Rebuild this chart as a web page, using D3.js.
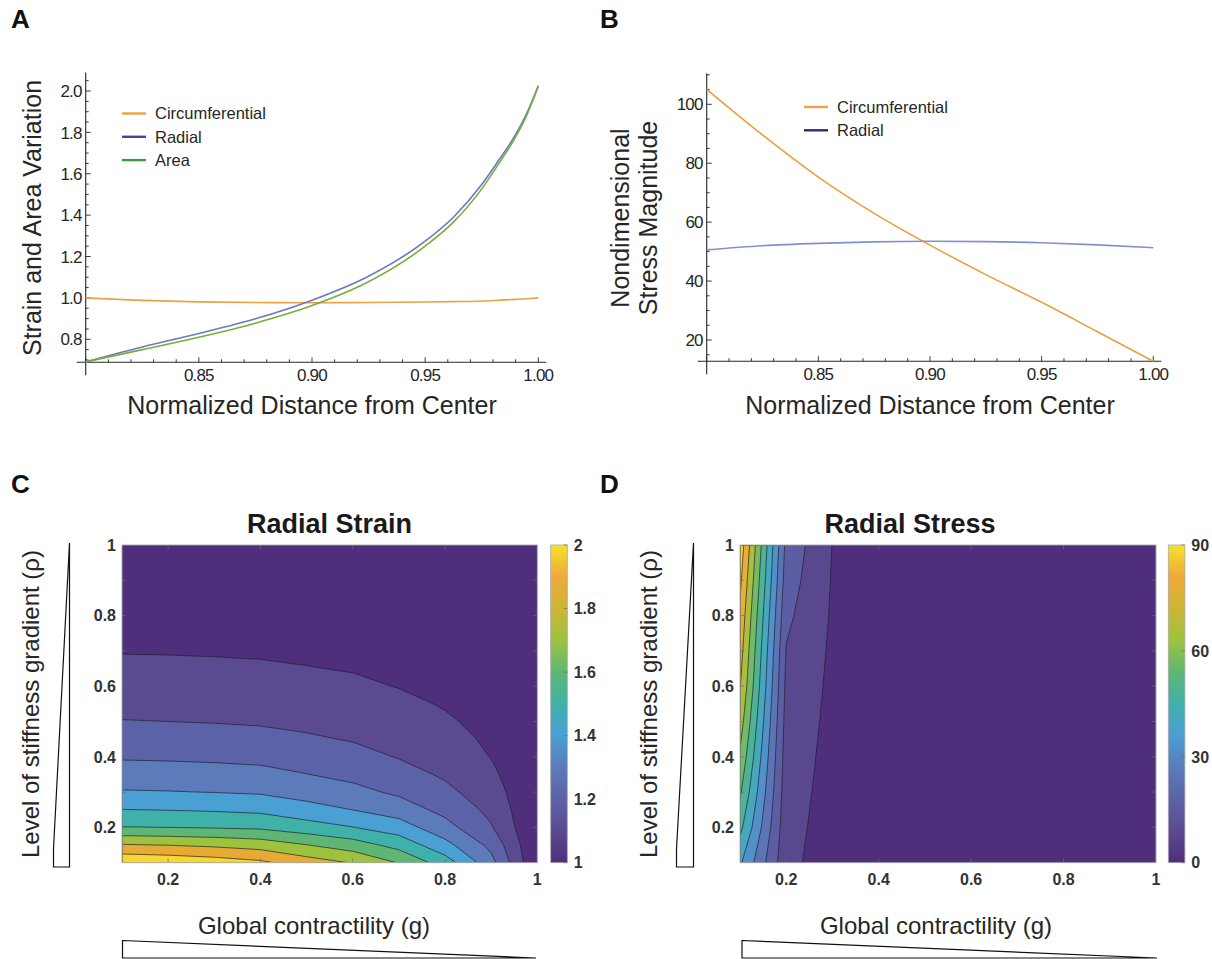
<!DOCTYPE html>
<html>
<head>
<meta charset="utf-8">
<script src="https://cdn.jsdelivr.net/npm/d3@7"></script>
<style>
  body { margin: 0; background: #fff; }
  svg { display: block; }
  text { font-family: "Liberation Sans", Arial, sans-serif; }
</style>
</head>
<body>
<svg id="fig" width="1212" height="959"></svg>
<script>
// ---------- panel A: strain / area vs normalized distance
const distA = [0.80, 0.825, 0.85, 0.875, 0.90, 0.925, 0.95, 0.9625, 0.975, 0.9825, 0.99, 0.995, 1.0];
const circStrain = [1.000, 0.988, 0.981, 0.978, 0.977, 0.978, 0.980, 0.982, 0.985, 0.989, 0.993, 0.996, 1.000];
const radialStrain = [0.691, 0.763, 0.828, 0.899, 0.989, 1.105, 1.274, 1.390, 1.548, 1.665, 1.790, 1.895, 2.026];
const areaVariation = [0.691, 0.750, 0.810, 0.878, 0.963, 1.078, 1.250, 1.366, 1.527, 1.648, 1.778, 1.886, 2.022];
const seriesA = ["Circumferential", "Radial", "Area"];

// ---------- panel B: stress vs normalized distance
const distB = [0.80, 0.825, 0.85, 0.875, 0.90, 0.925, 0.95, 0.975, 1.0];
const circStress = [105.1, 89.6, 75.3, 63.0, 52.2, 42.2, 32.8, 22.8, 12.8];
const radialStress = [50.6, 52.0, 52.8, 53.3, 53.5, 53.4, 53.0, 52.3, 51.3];
const seriesB = ["Circumferential", "Radial"];

// ---------- panels C/D: grid of contractility (g) x stiffness gradient (rho)
const gGrid = [0.1, 0.2, 0.3, 0.4, 0.5, 0.6, 0.7, 0.8, 0.9, 1.0];
const rhoStrainRows = [0.10, 0.15, 0.20, 0.25, 0.30, 0.35, 0.40, 0.45, 0.50, 0.55,
                       0.60, 0.65, 0.70, 0.75, 0.80, 0.85, 0.90, 0.95, 1.00];
// one row per rho value, one entry per g value
const radialStrainGrid = [
  [1.990, 1.976, 1.953, 1.920, 1.850, 1.795, 1.695, 1.550, 1.335, 1.0],
  [1.808, 1.798, 1.782, 1.758, 1.703, 1.648, 1.565, 1.432, 1.274, 1.0],
  [1.604, 1.600, 1.593, 1.583, 1.543, 1.503, 1.448, 1.336, 1.208, 1.0],
  [1.502, 1.497, 1.490, 1.479, 1.439, 1.399, 1.352, 1.271, 1.176, 1.0],
  [1.408, 1.404, 1.398, 1.389, 1.358, 1.328, 1.283, 1.223, 1.148, 1.0],
  [1.345, 1.342, 1.336, 1.328, 1.302, 1.275, 1.237, 1.187, 1.121, 1.0],
  [1.290, 1.287, 1.282, 1.275, 1.254, 1.232, 1.195, 1.162, 1.097, 1.0],
  [1.247, 1.243, 1.237, 1.229, 1.212, 1.194, 1.170, 1.137, 1.083, 1.0],
  [1.203, 1.200, 1.196, 1.190, 1.179, 1.168, 1.145, 1.112, 1.072, 1.0],
  [1.175, 1.173, 1.169, 1.164, 1.153, 1.142, 1.120, 1.093, 1.063, 1.0],
  [1.148, 1.146, 1.143, 1.138, 1.127, 1.116, 1.097, 1.080, 1.055, 1.0],
  [1.122, 1.120, 1.116, 1.111, 1.103, 1.095, 1.082, 1.068, 1.048, 1.0],
  [1.095, 1.094, 1.092, 1.090, 1.085, 1.080, 1.070, 1.058, 1.042, 1.0],
  [1.080, 1.079, 1.077, 1.075, 1.072, 1.068, 1.060, 1.050, 1.037, 1.0],
  [1.065, 1.064, 1.062, 1.060, 1.058, 1.056, 1.050, 1.043, 1.032, 1.0],
  [1.055, 1.054, 1.052, 1.050, 1.048, 1.046, 1.042, 1.036, 1.028, 1.0],
  [1.045, 1.044, 1.042, 1.040, 1.039, 1.038, 1.035, 1.030, 1.024, 1.0],
  [1.035, 1.034, 1.033, 1.032, 1.031, 1.030, 1.028, 1.024, 1.020, 1.0],
  [1.030, 1.029, 1.027, 1.025, 1.024, 1.022, 1.020, 1.018, 1.016, 1.0]
];
const strainLevels = [1.1, 1.2, 1.3, 1.4, 1.5, 1.6, 1.7, 1.8, 1.9];
const strainTicks = [1, 1.2, 1.4, 1.6, 1.8, 2];

const rhoStressRows = [0.1, 0.2, 0.3, 0.4, 0.5, 0.6, 0.7, 0.8, 0.9, 1.0];
const radialStressGrid = [
  [46.4, 11.4, 4.5, 2.8, 2.0, 1.6, 1.3, 1.1, 1.0, 0.9],
  [56.5, 12.2, 5.2, 3.2, 2.3, 1.8, 1.4, 1.2, 1.1, 1.0],
  [64.3, 13.0, 5.8, 3.6, 2.5, 1.9, 1.5, 1.3, 1.1, 1.0],
  [70.7, 13.8, 6.3, 3.9, 2.7, 2.0, 1.6, 1.4, 1.2, 1.1],
  [76.5, 14.8, 6.8, 4.2, 2.9, 2.1, 1.7, 1.4, 1.2, 1.1],
  [81.7, 16.0, 7.2, 4.5, 3.1, 2.3, 1.8, 1.5, 1.3, 1.1],
  [85.0, 17.5, 7.6, 4.8, 3.3, 2.4, 1.9, 1.6, 1.3, 1.2],
  [88.3, 20.0, 8.0, 5.0, 3.5, 2.5, 2.0, 1.6, 1.4, 1.2],
  [92.0, 22.5, 8.4, 5.3, 3.7, 2.7, 2.1, 1.7, 1.4, 1.2],
  [95.7, 24.5, 8.8, 5.5, 3.9, 2.8, 2.2, 1.8, 1.5, 1.3]
];
const stressLevels = [9, 18, 27, 36, 45, 54, 63, 72, 81, 90];
const stressTicks = [0, 30, 60, 90];

// printed parula-like colours: filled bands, and the continuous colorbar
const bandStops = ["#4f2e7c", "#5a4b90", "#5c62a7", "#5b7bbb", "#4a9fd3",
                   "#40b1a9", "#5fb674", "#9dc33e", "#e6aa35", "#f6d630"];
const barStops = ["#4f2e7c", "#5a4b90", "#5c62a7", "#5b7bbb", "#4a9fd3", "#40b1a9",
                  "#5fb674", "#9dc33e", "#cdb536", "#eea93a", "#f4e22c"];
const bandColor = d3.scaleLinear()
  .domain(bandStops.map((c, i) => i / (bandStops.length - 1)))
  .range(bandStops)
  .interpolate(d3.interpolateRgb);

const svg = d3.select("#fig");
const INK = "#262626";

function label(txt, x, y, opt = {}) {
  const t = svg.append("text")
    .attr("x", x).attr("y", y)
    .attr("font-size", opt.size || 16)
    .attr("font-weight", opt.bold ? "700" : "400")
    .attr("fill", opt.fill || INK)
    .attr("text-anchor", opt.anchor || "start")
    .text(txt);
  if (opt.rotate) t.attr("transform", `rotate(-90,${x},${y})`).attr("text-anchor", "middle");
  if (opt.dy) t.attr("dy", opt.dy);
  if (opt.ls) t.attr("letter-spacing", opt.ls);
  return t;
}

// ---------- Mathematica style line panel
function linePanel(cfg) {
  const { x, y, xFrom, xTo, yFrom, yTo } = cfg;
  const g = svg.append("g");
  const ax = x(xFrom), ay = y(yFrom);

  g.append("line").attr("x1", ax - 9).attr("x2", x(xTo) + 8).attr("y1", ay).attr("y2", ay)
    .attr("stroke", INK).attr("stroke-width", 1.1);
  g.append("line").attr("x1", ax).attr("x2", ax).attr("y1", y(yTo)).attr("y2", ay + 13)
    .attr("stroke", INK).attr("stroke-width", 1.1);

  const xMinor = d3.range(xFrom, xTo + 1e-9, 0.01);
  g.selectAll(null).data(xMinor).enter().append("line")
    .attr("x1", d => x(d)).attr("x2", d => x(d))
    .attr("y1", ay).attr("y2", (d, i) => ay - (i % 5 === 0 ? 5 : 3))
    .attr("stroke", INK).attr("stroke-width", 0.9);
  const yMinor = d3.range(cfg.yMinorStart, yTo, cfg.yMinorStep);
  g.selectAll(null).data(yMinor).enter().append("line")
    .attr("y1", d => y(d)).attr("y2", d => y(d))
    .attr("x1", ax).attr("x2", d => ax + (cfg.yMajor.some(v => Math.abs(v - d) < 1e-6) ? 5 : 3))
    .attr("stroke", INK).attr("stroke-width", 0.9);

  cfg.xLabels.forEach(v => label(d3.format(".2f")(v), x(v), ay + 19,
    { anchor: "middle", size: 17, ls: -0.8 }));
  cfg.yMajor.forEach(v => label(cfg.yFmt(v), ax - 4, y(v), { anchor: "end", size: 17, ls: -0.8, dy: "0.36em" }));

  const line = d3.line().curve(d3.curveMonotoneX);
  cfg.series.forEach(s => {
    g.append("path")
      .attr("d", line(cfg.xs.map((d, i) => [x(d), y(s.values[i])])))
      .attr("fill", "none").attr("stroke", s.color).attr("stroke-width", 1.6);
  });

  cfg.series.forEach((s, i) => {
    const ly = cfg.legendY + i * cfg.legendStep;
    g.append("line").attr("x1", cfg.legendX).attr("x2", cfg.legendX + 24)
      .attr("y1", ly).attr("y2", ly).attr("stroke", s.legendColor).attr("stroke-width", 2.4);
    label(s.name, cfg.legendX + 33, ly, { size: 16.5, dy: "0.35em" });
  });
}

const xA = d3.scaleLinear().domain([0.8, 1.0]).range([85.7, 538.3]);
const yA = d3.scaleLinear().domain([0.8, 2.0]).range([339.3, 91]);
linePanel({
  x: xA, y: yA, xFrom: 0.8, xTo: 1.0, yFrom: 0.689, yTo: 2.09,
  xLabels: [0.85, 0.90, 0.95, 1.00],
  yMajor: [0.8, 1.0, 1.2, 1.4, 1.6, 1.8, 2.0], yMinorStart: 0.7, yMinorStep: 0.05,
  yFmt: d3.format(".1f"),
  xs: distA,
  series: [
    { name: seriesA[0], values: circStrain, color: "#eba243", legendColor: "#f0a045" },
    { name: seriesA[1], values: radialStrain, color: "#6b78c4", legendColor: "#4d3f9c" },
    { name: seriesA[2], values: areaVariation, color: "#79ad3c", legendColor: "#3f9a45" }
  ],
  legendX: 122, legendY: 113.5, legendStep: 23.3
});

const xB = d3.scaleLinear().domain([0.8, 1.0]).range([706.7, 1153.3]);
const yB = d3.scaleLinear().domain([20, 100]).range([340, 104.3]);
linePanel({
  x: xB, y: yB, xFrom: 0.8, xTo: 1.0, yFrom: 12.8, yTo: 110.5,
  xLabels: [0.85, 0.90, 0.95, 1.00],
  yMajor: [20, 40, 60, 80, 100], yMinorStart: 15, yMinorStep: 5,
  yFmt: d3.format("d"),
  xs: distB,
  series: [
    { name: seriesB[0], values: circStress, color: "#e9a03c", legendColor: "#f0a045" },
    { name: seriesB[1], values: radialStress, color: "#8191cf", legendColor: "#2e2a70" }
  ],
  legendX: 804, legendY: 107, legendStep: 23.3
});

label("Normalized Distance from Center", 312, 414, { anchor: "middle", size: 25 });
label("Normalized Distance from Center", 930, 414, { anchor: "middle", size: 25 });
label("Strain and Area Variation", 41, 218, { rotate: true, size: 25 });
label("Nondimensional", 629, 218, { rotate: true, size: 25 });
label("Stress Magnitude", 657, 218, { rotate: true, size: 25 });

// ---------- MATLAB style filled contour panel
let clipCount = 0;
function contourPanel(cfg) {
  const { x, y, gCols, rhoRows, grid, levels } = cfg;
  const n = gCols.length, m = rhoRows.length;
  const gi = d3.scaleLinear().domain([0.5, n - 0.5]).range([gCols[0], gCols[n - 1]]).clamp(true);
  const ri = d3.scaleLinear().domain([0.5, m - 0.5]).range([rhoRows[0], rhoRows[m - 1]]).clamp(true);
  const proj = d3.geoTransform({ point(px, py) { this.stream.point(x(gi(px)), y(ri(py))); } });
  const path = d3.geoPath(proj);
  const bands = d3.contours().size([n, m]).thresholds(levels)(grid.flat());

  const x0 = x(gCols[0]), x1 = x(gCols[n - 1]), y0 = y(rhoRows[m - 1]), y1 = y(rhoRows[0]);
  const g = svg.append("g");
  g.append("rect").attr("x", x0).attr("y", y0).attr("width", x1 - x0).attr("height", y1 - y0)
    .attr("fill", bandColor(0));
  g.selectAll(null).data(bands).enter().append("path")
    .attr("d", path)
    .attr("fill", (d, i) => bandColor((i + 1) / levels.length));

  const id = "clip" + (clipCount++);
  svg.append("clipPath").attr("id", id).append("rect")
    .attr("x", x0 + 0.8).attr("y", y0 + 0.8).attr("width", x1 - x0 - 1.6).attr("height", y1 - y0 - 1.6);
  g.append("g").attr("clip-path", `url(#${id})`)
    .selectAll(null).data(bands).enter().append("path")
    .attr("d", path).attr("fill", "none")
    .attr("stroke", "#1f1d2a").attr("stroke-width", 0.8).attr("stroke-opacity", 0.85);

  // ticks
  const tk = g.append("g").attr("stroke", "#6a6a6a").attr("stroke-width", 0.7);
  [0.2, 0.4, 0.6, 0.8].forEach(v => {
    tk.append("line").attr("x1", x(v)).attr("x2", x(v)).attr("y1", y1).attr("y2", y1 - 4);
    tk.append("line").attr("x1", x(v)).attr("x2", x(v)).attr("y1", y0).attr("y2", y0 + 4);
  });
  d3.range(0.2, 0.95, 0.1).forEach(v => {
    tk.append("line").attr("y1", y(v)).attr("y2", y(v)).attr("x1", x0).attr("x2", x0 + 4);
    tk.append("line").attr("y1", y(v)).attr("y2", y(v)).attr("x1", x1).attr("x2", x1 - 4);
  });
  g.append("rect").attr("x", x0).attr("y", y0).attr("width", x1 - x0).attr("height", y1 - y0)
    .attr("fill", "none").attr("stroke", "#a9a9a9").attr("stroke-width", 0.9);

  const fmt = v => (v === 1 ? "1" : d3.format(".1f")(v));
  [0.2, 0.4, 0.6, 0.8, 1].forEach(v => {
    label(fmt(v), x(v), y1 + 22, { anchor: "middle", bold: true, size: 16, fill: "#333" });
    label(fmt(v), x0 - 6, y(v), { anchor: "end", bold: true, size: 16, fill: "#333", dy: "0.36em" });
  });

  // colorbar
  const gid = "grad" + id;
  const grad = svg.append("defs").append("linearGradient").attr("id", gid)
    .attr("x1", 0).attr("x2", 0).attr("y1", 1).attr("y2", 0);
  barStops.forEach((c, i) => grad.append("stop")
    .attr("offset", i / (barStops.length - 1)).attr("stop-color", c));
  const cb = d3.scaleLinear().domain(cfg.cRange).range([y1, y0]);
  g.append("rect").attr("x", cfg.cbX).attr("y", y0).attr("width", 16.6).attr("height", y1 - y0)
    .attr("fill", `url(#${gid})`).attr("stroke", "#a9a9a9").attr("stroke-width", 0.8);
  cfg.cTicks.forEach(v => {
    g.append("line").attr("x1", cfg.cbX + 16.6).attr("x2", cfg.cbX + 13).attr("y1", cb(v)).attr("y2", cb(v))
      .attr("stroke", "#6a6a6a").attr("stroke-width", 0.7);
    label(String(v), cfg.cbX + 23, cb(v), { bold: true, size: 16, fill: "#333", dy: "0.36em" });
  });

  label(cfg.title, cfg.titleX, 533, { anchor: "middle", bold: true, size: 27, fill: "#1a1a1a" });
}

const yCD = d3.scaleLinear().domain([0.1, 1.0]).range([862.7, 545]);
contourPanel({
  x: d3.scaleLinear().domain([0.1, 1.0]).range([122, 537.3]), y: yCD,
  gCols: gGrid, rhoRows: rhoStrainRows, grid: radialStrainGrid, levels: strainLevels,
  cRange: [1, 2], cTicks: strainTicks, cbX: 550.7,
  title: "Radial Strain", titleX: 329.5
});
contourPanel({
  x: d3.scaleLinear().domain([0.1, 1.0]).range([740, 1156]), y: yCD,
  gCols: gGrid, rhoRows: rhoStressRows, grid: radialStressGrid, levels: stressLevels,
  cRange: [0, 90], cTicks: stressTicks, cbX: 1168.3,
  title: "Radial Stress", titleX: 910
});

label("Level of stiffness gradient (ρ)", 39, 704, { rotate: true, size: 24 });
label("Level of stiffness gradient (ρ)", 657, 704, { rotate: true, size: 24 });
label("Global contractility (g)", 314, 934, { anchor: "middle", size: 24 });
label("Global contractility (g)", 936, 934, { anchor: "middle", size: 24 });

// wedge glyphs next to the axes
const wedge = d3.line();
[[53.5, 69.5], [676.5, 693.5]].forEach(([a, b]) => {
  svg.append("path").attr("d", wedge([[b, 543], [b, 867], [a, 867], [a, 849]]) + "Z")
    .attr("fill", "none").attr("stroke", "#111").attr("stroke-width", 1.2);
});
[[122.5, 536], [742, 1157]].forEach(([a, b]) => {
  svg.append("path").attr("d", wedge([[a, 940.5], [b, 958], [a, 958]]) + "Z")
    .attr("fill", "none").attr("stroke", "#111").attr("stroke-width", 1.2);
});

// panel letters
label("A", 11, 28, { bold: true, size: 26, fill: "#111" });
label("B", 600, 28, { bold: true, size: 26, fill: "#111" });
label("C", 11, 493, { bold: true, size: 26, fill: "#111" });
label("D", 600, 493, { bold: true, size: 26, fill: "#111" });
</script>
</body>
</html>
